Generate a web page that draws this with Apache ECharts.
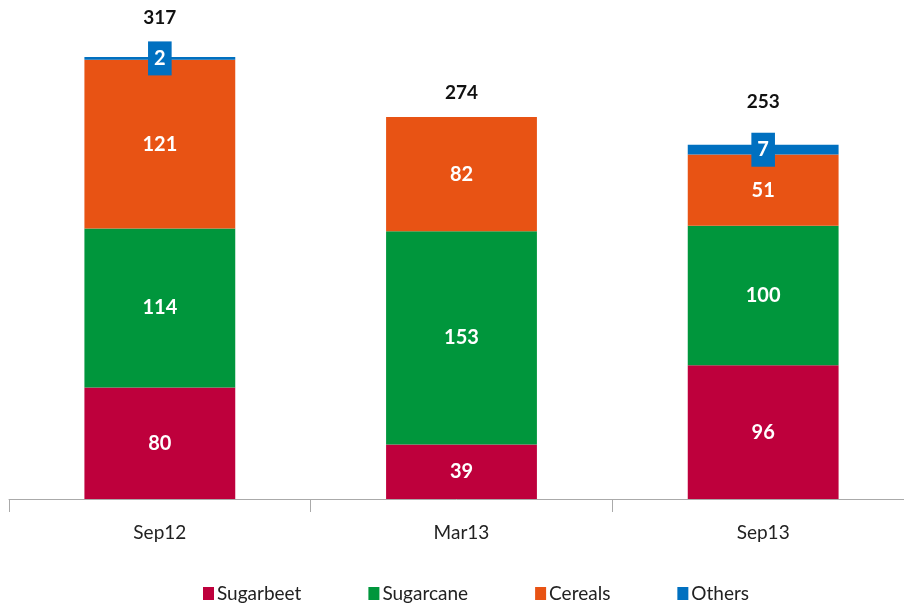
<!DOCTYPE html>
<html>
<head>
<meta charset="utf-8">
<script src="https://cdn.jsdelivr.net/npm/echarts@6/dist/echarts.min.js"></script>
<style>
  html, body { margin: 0; padding: 0; background: #fff; }
  #chart { width: 904px; height: 605px; }
</style>
</head>
<body>
<div id="chart"></div>
<script>
  var categories = ['Sep12', 'Mar13', 'Sep13'];
  var sugarbeet = [80, 39, 96];
  var sugarcane = [114, 153, 100];
  var cereals = [121, 82, 51];
  var others = [2, null, 7];
  var totals = [317, 274, 253];

  var colors = ['#BE003C', '#00963C', '#E85314', '#0070C0'];
  var font = 'Lato, "Open Sans", sans-serif';

  // distance of the total label above each bar (clears the blue boxes)
  var totalGap = [30, 15, 33];

  var chart = echarts.init(document.getElementById('chart'));

  function inLabel() {
    return {
      show: true,
      position: 'inside',
      color: '#fff',
      fontFamily: font,
      fontWeight: 'bold',
      fontSize: 20
    };
  }

  var option = {
    animation: false,
    color: colors,
    grid: { left: 9, right: -10, top: 11, bottom: 106, outerBoundsMode: 'none', containLabel: false },
    legend: {
      data: ['Sugarbeet', 'Sugarcane', 'Cereals', 'Others'],
      bottom: -3,
      left: 198,
      icon: 'rect',
      itemWidth: 11,
      itemHeight: 13,
      itemGap: 67,
      textStyle: { fontFamily: font, fontSize: 19, color: '#222', padding: [0, 0, 0, -2] }
    },
    xAxis: {
      type: 'category',
      data: categories,
      axisLine: { lineStyle: { color: '#aaa' } },
      axisTick: { show: true, length: 13, alignWithLabel: false, lineStyle: { color: '#aaa' } },
      axisLabel: { margin: 24, fontFamily: font, fontSize: 19, color: '#222' }
    },
    yAxis: {
      type: 'value',
      min: 0,
      max: 350,
      show: false,
      splitLine: { show: false }
    },
    series: [
      {
        name: 'Sugarbeet', type: 'bar', stack: 'a', barWidth: '50%',
        data: sugarbeet, label: inLabel()
      },
      {
        name: 'Sugarcane', type: 'bar', stack: 'a',
        data: sugarcane, label: inLabel()
      },
      {
        name: 'Cereals', type: 'bar', stack: 'a',
        data: cereals, label: inLabel()
      },
      {
        name: 'Others', type: 'bar', stack: 'a',
        data: others,
        label: {
          show: true,
          position: 'inside',
          color: '#fff',
          fontFamily: font,
          fontWeight: 'bold',
          fontSize: 20,
          backgroundColor: '#0070C0',
          padding: [8, 6, 6, 6]
        }
      },
      {
        name: 'Total', type: 'bar', stack: 'a',
        data: totals.map(function (t, i) {
          return {
            value: 0,
            label: { distance: totalGap[i] }
          };
        }),
        itemStyle: { color: 'transparent' },
        label: {
          show: true,
          position: 'top',
          color: '#111',
          fontFamily: font,
          fontWeight: 'bold',
          fontSize: 19,
          formatter: function (p) { return totals[p.dataIndex]; }
        }
      }
    ]
  };

  chart.setOption(option);
</script>
</body>
</html>
